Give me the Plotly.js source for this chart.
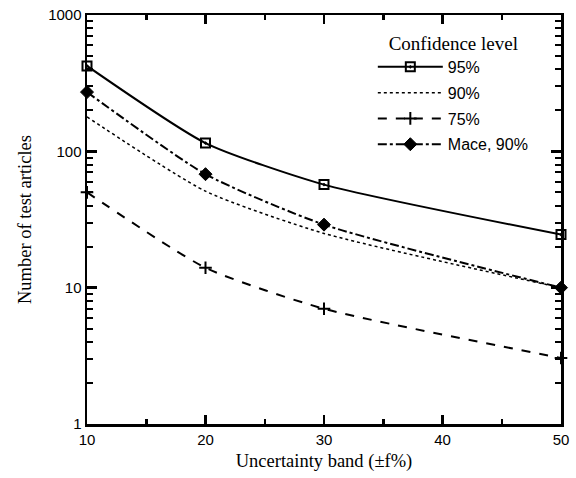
<!DOCTYPE html>
<html>
<head>
<meta charset="utf-8">
<script src="https://cdn.plot.ly/plotly-3.0.1.min.js"></script>
<style>html,body{margin:0;padding:0;background:#fff}#chart{width:576px;height:478px}</style>
</head>
<body>
<div id="chart"></div>
<script>
const bands = [10, 20, 30, 50];
const conf95 = [423, 115, 57, 24.5];
const conf90 = [179, 51, 25, 10];
const conf75 = [50, 14, 7, 3.05];
const mace90 = [272, 68, 29, 10];
const seriesNames = ['95%', '90%', '75%', 'Mace, 90%'];
const xTickVals = [10, 20, 30, 40, 50];
const yTickVals = [1, 10, 100, 1000];

const sans = '"Liberation Sans", Arial, Helvetica, sans-serif';
const serif = '"Liberation Serif", "Times New Roman", serif';

function tr(y, name, dash, width, marker, group) {
  const t = {
    x: bands, y: y, name: name, type: 'scatter',
    mode: marker ? 'lines+markers' : 'lines',
    line: {color: '#000', width: width, dash: dash, shape: 'spline', smoothing: 0.6},
    cliponaxis: false,
    legendgroup: group
  };
  if (marker) t.marker = marker;
  return t;
}

const data = [
  tr(conf95, seriesNames[0], 'solid', 2, {symbol: 'square-open-dot', size: 9, color: '#000', line: {width: 2, color: '#000'}}, 'a'),
  tr(conf90, seriesNames[1], 'dot', 1.5, null, 'b'),
  tr(conf75, seriesNames[2], 'dash', 2, {symbol: 'cross-thin', size: 9, color: '#000', line: {width: 2, color: '#000'}}, 'c'),
  tr(mace90, seriesNames[3], 'dashdot', 2, {symbol: 'diamond', size: 10, color: '#000', line: {width: 1, color: '#000'}}, 'd')
];

const layout = {
  width: 576, height: 478,
  margin: {l: 87, r: 15, t: 15, b: 54},
  paper_bgcolor: '#fff', plot_bgcolor: '#fff',
  showlegend: true,
  legend: {
    x: 0.603, y: 0.975, xanchor: 'left', yanchor: 'top',
    bgcolor: 'rgba(0,0,0,0)', borderwidth: 0,
    font: {family: sans, size: 16, color: '#000'},
    title: {text: 'Confidence level', side: 'top center', font: {family: serif, size: 19, color: '#000'}},
    itemwidth: 65,
    tracegroupgap: 2,
    traceorder: 'grouped'
  },
  xaxis: {
    range: [10, 50],
    tickmode: 'array', tickvals: xTickVals,
    ticks: 'inside', ticklen: 9, tickwidth: 2.5, tickcolor: '#000',
    minor: {dtick: 5, ticks: 'inside', ticklen: 5, tickwidth: 2.5, tickcolor: '#000'},
    showline: true, linewidth: 2.5, linecolor: '#000', mirror: 'ticks',
    showgrid: false, zeroline: false,
    tickfont: {family: sans, size: 15, color: '#000'},
    title: {text: 'Uncertainty band (±f%)', font: {family: serif, size: 18.5, color: '#000'}, standoff: 8}
  },
  yaxis: {
    type: 'log', range: [0, 3],
    tickmode: 'array', tickvals: yTickVals, ticktext: yTickVals.map(String),
    ticks: 'inside', ticklen: 10, tickwidth: 2.5, tickcolor: '#000',
    minor: {dtick: 'D1', ticks: 'inside', ticklen: 6, tickwidth: 2, tickcolor: '#000'},
    showline: true, linewidth: 2.5, linecolor: '#000', mirror: 'ticks',
    showgrid: false, zeroline: false,
    tickfont: {family: sans, size: 15, color: '#000'},
    title: {text: 'Number of test articles', font: {family: serif, size: 18.5, color: '#000'}, standoff: 12}
  }
};

Plotly.newPlot('chart', data, layout, {displayModeBar: false, staticPlot: true});
</script>
</body>
</html>
